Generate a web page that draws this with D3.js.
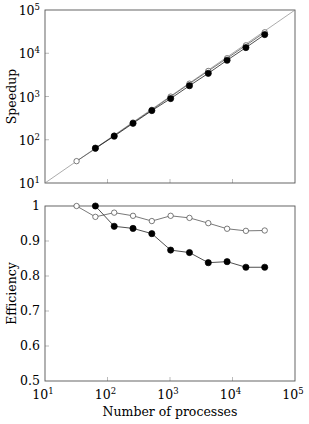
<!DOCTYPE html>
<html>
<head>
<meta charset="utf-8">
<script src="https://cdn.jsdelivr.net/npm/d3@7/dist/d3.min.js"></script>
<style>
  body { margin: 0; background: #fff; }
  text { font-family: "DejaVu Serif", serif; fill: #000; }
</style>
</head>
<body>
<div id="chart"></div>
<script>
// data
const procsA = [32, 64, 128, 256, 512, 1024, 2048, 4096, 8192, 16384, 32768];
const speedupA = [32, 62, 125, 249, 490, 995, 1978, 3891, 7660, 15210, 30470];
const effA = [1.0, 0.969, 0.981, 0.972, 0.957, 0.972, 0.966, 0.951, 0.935, 0.929, 0.930];

const procsB = [64, 128, 256, 512, 1024, 2048, 4096, 8192, 16384, 32768];
const speedupB = [64, 121, 240, 472, 895, 1775, 3432, 6890, 13517, 27034];
const effB = [1.0, 0.942, 0.936, 0.921, 0.874, 0.867, 0.838, 0.841, 0.825, 0.825];

const idealLine = [10, 100000];
const decadeTicks = [1, 2, 3, 4, 5];
const effTicks = [0.5, 0.6, 0.7, 0.8, 0.9, 1];

const width = 309, height = 424;
const left = 45, right = 295;
const top1 = 10, bottom1 = 183;
const top2 = 206, bottom2 = 381;

const svg = d3.select("#chart").append("svg")
  .attr("width", width)
  .attr("height", height);

const x = d3.scaleLog().domain([10, 100000]).range([left, right]);
const ySp = d3.scaleLog().domain([10, 100000]).range([bottom1, top1]);
const yEf = d3.scaleLinear().domain([0.5, 1]).range([bottom2, top2]);

function powLabel(sel, e) {
  sel.append("tspan").text("10");
  sel.append("tspan").attr("dy", -5).attr("font-size", 8.5).text(e);
}

// clip path for the ideal line
svg.append("defs").append("clipPath").attr("id", "c1").append("rect")
  .attr("x", left).attr("y", top1).attr("width", right - left).attr("height", bottom1 - top1);

// ticks
const tickG = svg.append("g").attr("stroke", "#aaa").attr("stroke-width", 0.8);
decadeTicks.slice(1, -1).forEach(e => {
  const v = Math.pow(10, e);
  tickG.append("line").attr("x1", x(v)).attr("x2", x(v)).attr("y1", bottom1).attr("y2", bottom1 - 4);
  tickG.append("line").attr("x1", x(v)).attr("x2", x(v)).attr("y1", bottom2).attr("y2", bottom2 - 4);
  tickG.append("line").attr("x1", left).attr("x2", left + 4).attr("y1", ySp(v)).attr("y2", ySp(v));
});
effTicks.slice(1, -1).forEach(v => {
  tickG.append("line").attr("x1", left).attr("x2", left + 4).attr("y1", yEf(v)).attr("y2", yEf(v));
});

// frames
[[top1, bottom1], [top2, bottom2]].forEach(([t, b]) => {
  svg.append("rect")
    .attr("x", left).attr("y", t)
    .attr("width", right - left).attr("height", b - t)
    .attr("fill", "none").attr("stroke", "#555").attr("stroke-width", 0.9);
});

// ideal line
svg.append("line")
  .attr("clip-path", "url(#c1)")
  .attr("x1", x(idealLine[0])).attr("y1", ySp(idealLine[0]))
  .attr("x2", x(idealLine[1])).attr("y2", ySp(idealLine[1]))
  .attr("stroke", "#888").attr("stroke-width", 0.7);

function series(g, xs, ys, yScale, filled) {
  const pts = xs.map((p, i) => [p, ys[i]]);
  const line = d3.line().x(d => x(d[0])).y(d => yScale(d[1]));
  g.append("path").attr("d", line(pts))
    .attr("fill", "none").attr("stroke", filled ? "#222" : "#555").attr("stroke-width", 0.8);
  g.selectAll(null).data(pts).enter().append("circle")
    .attr("cx", d => x(d[0])).attr("cy", d => yScale(d[1]))
    .attr("r", filled ? 3.1 : 2.7)
    .attr("fill", filled ? "#000" : "#fff")
    .attr("stroke", filled ? "#000" : "#444")
    .attr("stroke-width", 0.7);
}

const g1 = svg.append("g");
series(g1, procsA, speedupA, ySp, false);
series(g1, procsB, speedupB, ySp, true);

const g2 = svg.append("g");
series(g2, procsA, effA, yEf, false);
series(g2, procsB, effB, yEf, true);

// y tick labels
decadeTicks.forEach(e => {
  const t = svg.append("text")
    .attr("x", 40).attr("y", ySp(Math.pow(10, e)) + 5)
    .attr("text-anchor", "end").attr("font-size", 12.5);
  powLabel(t, e);
});
effTicks.forEach(v => {
  svg.append("text")
    .attr("x", 40).attr("y", yEf(v) + 4)
    .attr("text-anchor", "end").attr("font-size", 12.5)
    .text(v === 1 ? "1" : v.toFixed(1));
});

// x tick labels
decadeTicks.forEach(e => {
  const t = svg.append("text")
    .attr("x", x(Math.pow(10, e)) - 2).attr("y", bottom2 + 18)
    .attr("text-anchor", "middle").attr("font-size", 12.5);
  powLabel(t, e);
});

// axis titles
svg.append("text")
  .attr("x", (left + right) / 2).attr("y", 416)
  .attr("text-anchor", "middle").attr("font-size", 12.5)
  .text("Number of processes");
svg.append("text")
  .attr("transform", `translate(16, ${(top1 + bottom1) / 2}) rotate(-90)`)
  .attr("text-anchor", "middle").attr("font-size", 12.5)
  .text("Speedup");
svg.append("text")
  .attr("transform", `translate(16, ${(top2 + bottom2) / 2}) rotate(-90)`)
  .attr("text-anchor", "middle").attr("font-size", 12.5)
  .text("Efficiency");
</script>
</body>
</html>
